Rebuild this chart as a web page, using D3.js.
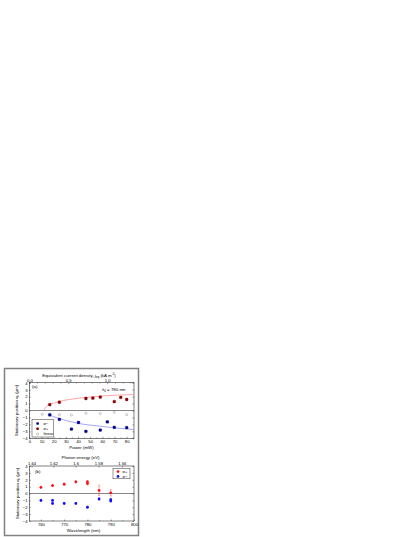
<!DOCTYPE html>
<html lang="en">
<head>
<meta charset="UTF-8">
<title>Stationary position</title>
<style>
  body { margin: 0; background: #fff; }
  svg { display: block; font-family: "Liberation Sans", Arial, sans-serif; }
  .lbl { font-size: 4.4px; fill: #000; }
</style>
</head>
<body>
<svg id="chart" width="415" height="537"></svg>
<script src="https://cdn.jsdelivr.net/npm/d3@7/dist/d3.min.js"></script>
<script>
// ---- panel (a): power dependence ----
const powerPlus  = [16.8, 24.7, 46.5, 52.2, 58.3, 69.8, 75.1, 80];
const xPlus      = [0.84, 1.19, 1.73, 1.78, 1.93, 1.28, 1.88, 1.58];
const powerMinus = [16.8, 24.7, 34.6, 40.4, 46.5, 58.3, 64.1, 69.8, 80];
const xMinus     = [-0.64, -1.28, -2.67, -1.73, -3.01, -2.81, -1.63, -2.42, -2.47];
const powerLin   = [10.7, 16.8, 24.7, 34.6, 46.5, 58.3, 69.8, 80];
const xLin       = [-0.54, -0.54, -0.6, -0.64, -0.4, -0.44, -0.25, -0.6];
// fit curves
const fitPlusP   = [12.4, 12.8, 13.5, 14.5, 16, 18, 20, 25, 30, 40, 50, 60, 70, 86];
const fitPlusX   = [0, 0.3, 0.5, 0.65, 0.82, 0.95, 1.05, 1.3, 1.5, 1.75, 1.95, 2.1, 2.2, 2.3];
const fitMinusP  = [16.5, 18, 20, 25, 30, 35, 40, 50, 60, 70, 80, 86];
const fitMinusX  = [-0.5, -0.75, -0.9, -1.15, -1.45, -1.65, -1.85, -2.1, -2.3, -2.5, -2.65, -2.75];
const powerTicks = [0, 10, 20, 30, 40, 50, 60, 70, 80];
const jeqTicks   = [0.0, 0.5, 1.0];
const jeqPerMW   = 1 / 64;

// ---- panel (b): wavelength dependence ----
const wlPlus     = [760, 765, 770, 775, 780, 780, 785, 790];
const xWlPlus    = [0.9, 1.15, 1.35, 1.7, 1.7, 1.45, 0.45, 0.1];
const errPlus    = [0.15, 0.15, 0.15, 0.15, 0.2, 0.2, 0.75, 0.45];
const wlMinus    = [760, 765, 765, 770, 775, 780, 785, 790, 790];
const xWlMinus   = [-1.0, -1.0, -1.45, -1.45, -1.45, -2.0, -0.8, -0.9, -1.1];
const errMinus   = [0.12, 0.12, 0.12, 0.12, 0.12, 0.12, 0.15, 0.12, 0.12];
const wlTicks    = [760, 770, 780, 790, 800];
const energyTicks = [1.64, 1.62, 1.6, 1.58, 1.56];
const yTicks     = [-4, -3, -2, -1, 0, 1, 2, 3, 4];

const svg = d3.select("#chart");
const font = "Liberation Sans, Arial, sans-serif";

// figure frame
svg.append("rect")
    .attr("x", 4.5).attr("y", 368.5).attr("width", 134).attr("height", 167)
    .attr("fill", "none").attr("stroke", "#808080").attr("stroke-width", 1.5);

function styleAxis(g) {
    g.attr("font-size", 4.2).attr("font-family", font);
    g.select(".domain").remove();
    g.selectAll("line").attr("stroke", "#000").attr("stroke-width", 0.4);
    g.selectAll("text").attr("fill", "#000");
}

function panel(box, xDomain) {
    const x = d3.scaleLinear().domain(xDomain).range([box.left, box.right]);
    const y = d3.scaleLinear().domain([-4, 4]).range([box.bottom, box.top]);

    svg.append("rect")
        .attr("x", box.left).attr("y", box.top)
        .attr("width", box.right - box.left).attr("height", box.bottom - box.top)
        .attr("fill", "none").attr("stroke", "#000").attr("stroke-width", 0.5);

    // y axis left + right
    svg.append("g").attr("transform", `translate(${box.left},0)`)
        .call(d3.axisLeft(y).tickValues(yTicks).tickSize(-1.5).tickPadding(1.8).tickFormat(d3.format("d")))
        .call(styleAxis);
    svg.append("g").attr("transform", `translate(${box.left},0)`)
        .call(d3.axisLeft(y).tickValues(d3.range(-3.5, 4, 1)).tickSize(-0.8).tickFormat(""))
        .call(styleAxis);
    svg.append("g").attr("transform", `translate(${box.right},0)`)
        .call(d3.axisRight(y).tickValues(yTicks).tickSize(-1.5).tickFormat(""))
        .call(styleAxis);

    // zero line
    svg.append("line")
        .attr("x1", box.left).attr("x2", box.right)
        .attr("y1", y(0)).attr("y2", y(0))
        .attr("stroke", "#333").attr("stroke-width", 0.6);
    return {x, y};
}

// ===== panel (a) =====
const boxA = {left: 29.3, right: 134, top: 382.7, bottom: 438.3};
const a = panel(boxA, [0, 86]);

svg.append("g").attr("transform", `translate(0,${boxA.bottom})`)
    .call(d3.axisBottom(a.x).tickValues(powerTicks).tickSize(-1.5).tickPadding(1.8))
    .call(styleAxis);
svg.append("g").attr("transform", `translate(0,${boxA.bottom})`)
    .call(d3.axisBottom(a.x).tickValues(d3.range(5, 86, 10)).tickSize(-0.8).tickFormat(""))
    .call(styleAxis);

const xJ = d3.scaleLinear().domain([0, 86 * jeqPerMW]).range([boxA.left, boxA.right]);
svg.append("g").attr("transform", `translate(0,${boxA.top})`)
    .call(d3.axisTop(xJ).tickValues(jeqTicks).tickSize(-1.5).tickPadding(1.2).tickFormat(d3.format(".1f")))
    .call(styleAxis);
svg.append("g").attr("transform", `translate(0,${boxA.top})`)
    .call(d3.axisTop(xJ).tickValues(d3.range(0.1, 1.35, 0.1).filter(v => Math.abs(v - 0.5) > 0.01 && Math.abs(v - 1) > 0.01)).tickSize(-0.8).tickFormat(""))
    .call(styleAxis);

const lineA = d3.line().x(d => a.x(d[0])).y(d => a.y(d[1])).curve(d3.curveMonotoneX);
svg.append("path").datum(d3.zip(fitPlusP, fitPlusX))
    .attr("d", lineA).attr("fill", "none").attr("stroke", "#ff8080").attr("stroke-width", 0.7);
svg.append("path").datum(d3.zip(fitMinusP, fitMinusX))
    .attr("d", lineA).attr("fill", "none").attr("stroke", "#8080ff").attr("stroke-width", 0.7);

svg.append("g").selectAll("circle").data(d3.zip(powerLin, xLin)).join("circle")
    .attr("cx", d => a.x(d[0])).attr("cy", d => a.y(d[1])).attr("r", 1.1)
    .attr("fill", "#fff").attr("stroke", "#777").attr("stroke-width", 0.4);
svg.append("g").selectAll("rect").data(d3.zip(powerPlus, xPlus)).join("rect")
    .attr("x", d => a.x(d[0]) - 1.4).attr("y", d => a.y(d[1]) - 1.4)
    .attr("width", 2.8).attr("height", 2.8).attr("rx", 0.8)
    .attr("fill", "#990000").attr("stroke", "#550000").attr("stroke-width", 0.3);
svg.append("g").selectAll("rect").data(d3.zip(powerMinus, xMinus)).join("rect")
    .attr("x", d => a.x(d[0]) - 1.4).attr("y", d => a.y(d[1]) - 1.4)
    .attr("width", 2.8).attr("height", 2.8).attr("rx", 0.8)
    .attr("fill", "#000099").attr("stroke", "#000055").attr("stroke-width", 0.3);

// legend (a)
svg.append("rect").attr("x", 32).attr("y", 419.4).attr("width", 21.7).attr("height", 17.6)
    .attr("fill", "#fff").attr("stroke", "#000").attr("stroke-width", 0.4);
const legA = [["σ−", "#000099", "m"], ["σ+", "#990000", "m"], ["linear", "#777", "o"]];
legA.forEach((d, i) => {
    const cy = 423.5 + i * 5.2;
    if (d[2] === "m") {
        svg.append("rect").attr("x", 36.3).attr("y", cy - 1.3).attr("width", 2.6).attr("height", 2.6)
            .attr("rx", 0.8).attr("fill", d[1]);
    } else {
        svg.append("circle").attr("cx", 37.6).attr("cy", cy).attr("r", 1.1)
            .attr("fill", "#fff").attr("stroke", d[1]).attr("stroke-width", 0.4);
    }
    svg.append("text").attr("class", "lbl").attr("x", 43.5).attr("y", cy + 1.5)
        .style("font-size", "4px").text(d[0]);
});

svg.append("text").attr("class", "lbl").attr("x", 32).attr("y", 388.3).text("(a)");
const lam = svg.append("text").attr("class", "lbl").attr("x", 102).attr("y", 390.5);
lam.append("tspan").text("λ");
lam.append("tspan").attr("dy", 1).style("font-size", "3px").text("0");
lam.append("tspan").attr("dy", -1).text(" = 780 nm");

const tA = svg.append("text").attr("class", "lbl").attr("x", 79).attr("y", 376.5).attr("text-anchor", "middle");
tA.append("tspan").text("Equivalent current density, ");
tA.append("tspan").style("font-style", "italic").text("j");
tA.append("tspan").attr("dy", 1).style("font-size", "3px").text("eq");
tA.append("tspan").attr("dy", -1).text(" (kA m");
tA.append("tspan").attr("dy", -1.5).style("font-size", "3px").text("-2");
tA.append("tspan").attr("dy", 1.5).text(")");

svg.append("text").attr("class", "lbl").attr("x", 81.5).attr("y", 449).attr("text-anchor", "middle").text("Power (mW)");

function yLabel(cx, cy) {
    const t = svg.append("text").attr("class", "lbl").attr("text-anchor", "middle")
        .attr("transform", `translate(${cx},${cy}) rotate(-90)`);
    t.append("tspan").text("Stationary position ");
    t.append("tspan").style("font-style", "italic").text("x");
    t.append("tspan").attr("dy", 1).style("font-size", "3px").text("0");
    t.append("tspan").attr("dy", -1).text(" (μm)");
}
yLabel(18, 410.5);

// ===== panel (b) =====
const boxB = {left: 29.3, right: 134, top: 466, bottom: 521};
const b = panel(boxB, [755, 800]);

svg.append("g").attr("transform", `translate(0,${boxB.bottom})`)
    .call(d3.axisBottom(b.x).tickValues(wlTicks).tickSize(-1.5).tickPadding(1.8))
    .call(styleAxis);
svg.append("g").attr("transform", `translate(0,${boxB.bottom})`)
    .call(d3.axisBottom(b.x).tickValues(d3.range(765, 800, 10)).tickSize(-0.8).tickFormat(""))
    .call(styleAxis);

const xE = d3.scaleLinear()
    .domain([1239.84 / 755, 1239.84 / 800])
    .range([boxB.left, boxB.right]);
const xEpos = e => b.x(1239.84 / e);
const topB = svg.append("g").attr("transform", `translate(0,${boxB.top})`)
    .call(d3.axisTop(b.x).tickValues(energyTicks.map(e => 1239.84 / e)).tickSize(-1.5).tickPadding(1.2)
        .tickFormat((d, i) => String(energyTicks[i])))
    .call(styleAxis);

svg.append("text").attr("class", "lbl").attr("x", 80.5).attr("y", 459).attr("text-anchor", "middle").text("Photon energy (eV)");
svg.append("text").attr("class", "lbl").attr("x", 83.5).attr("y", 532).attr("text-anchor", "middle").text("Wavelength (nm)");
svg.append("text").attr("class", "lbl").attr("x", 35).attr("y", 472.5).text("(b)");
yLabel(19, 493.5);

function errPoints(wl, val, err, color) {
    const g = svg.append("g");
    const pts = wl.map((w, i) => ({w, v: val[i], e: err[i]}));
    g.selectAll("line.e").data(pts).join("line")
        .attr("x1", d => b.x(d.w)).attr("x2", d => b.x(d.w))
        .attr("y1", d => b.y(d.v - d.e)).attr("y2", d => b.y(d.v + d.e))
        .attr("stroke", color).attr("stroke-width", 0.4);
    g.selectAll("line.c1").data(pts).join("line")
        .attr("x1", d => b.x(d.w) - 0.8).attr("x2", d => b.x(d.w) + 0.8)
        .attr("y1", d => b.y(d.v + d.e)).attr("y2", d => b.y(d.v + d.e))
        .attr("stroke", color).attr("stroke-width", 0.4);
    g.selectAll("line.c2").data(pts).join("line")
        .attr("x1", d => b.x(d.w) - 0.8).attr("x2", d => b.x(d.w) + 0.8)
        .attr("y1", d => b.y(d.v - d.e)).attr("y2", d => b.y(d.v - d.e))
        .attr("stroke", color).attr("stroke-width", 0.4);
    g.selectAll("circle").data(pts).join("circle")
        .attr("cx", d => b.x(d.w)).attr("cy", d => b.y(d.v)).attr("r", 1.4)
        .attr("fill", color);
}
errPoints(wlPlus, xWlPlus, errPlus, "#ff1010");
errPoints(wlMinus, xWlMinus, errMinus, "#1010ff");

// legend (b)
svg.append("rect").attr("x", 113).attr("y", 468.2).attr("width", 17).attr("height", 10.6)
    .attr("fill", "#fff").attr("stroke", "#000").attr("stroke-width", 0.4);
[["σ+", "#ff1010"], ["σ−", "#1010ff"]].forEach((d, i) => {
    const cy = 471.6 + i * 4.8;
    svg.append("line").attr("x1", 116.5).attr("x2", 119.5).attr("y1", cy).attr("y2", cy)
        .attr("stroke", d[1]).attr("stroke-width", 0.4);
    svg.append("circle").attr("cx", 118).attr("cy", cy).attr("r", 1.3).attr("fill", d[1]);
    svg.append("text").attr("class", "lbl").attr("x", 122.5).attr("y", cy + 1.4)
        .style("font-size", "4px").text(d[0]);
});
</script>
</body>
</html>
